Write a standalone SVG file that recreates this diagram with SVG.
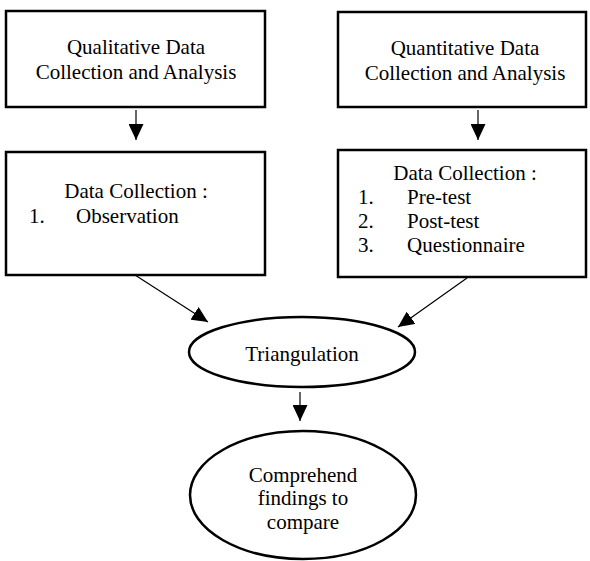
<svg xmlns="http://www.w3.org/2000/svg" width="590" height="561" viewBox="0 0 590 561">
<style>
.box{fill:#fff;stroke:#000;stroke-width:2.5}
.ell{fill:#fff;stroke:#000;stroke-width:2.5}
text{font-family:'Liberation Serif','Times New Roman',Times,serif;font-size:21px;fill:#000}
.c{text-anchor:middle}
.ln{stroke:#000;stroke-width:1.2;fill:none}
</style>
<defs>
<marker id="ah" markerUnits="userSpaceOnUse" markerWidth="17" markerHeight="15" refX="16" refY="7.5" orient="auto">
<path d="M0,0 L16,7.5 L0,15 z" fill="#000"/>
</marker>
</defs>
<g id="qual">
<rect class="box" x="6" y="11" width="259" height="96"/>
<text class="c" x="136" y="54">Qualitative Data</text>
<text class="c" x="136" y="79">Collection and Analysis</text>
</g>
<g id="quant">
<rect class="box" x="338" y="12" width="248" height="95"/>
<text class="c" x="465" y="55">Quantitative Data</text>
<text class="c" x="465" y="80">Collection and Analysis</text>
</g>
<g id="qualdc">
<rect class="box" x="6" y="152" width="259" height="123"/>
<text class="c" x="136" y="198">Data Collection :</text>
<text x="29" y="223">1.</text>
<text x="76" y="223">Observation</text>
</g>
<g id="quantdc">
<rect class="box" x="338" y="150" width="248" height="127"/>
<text class="c" x="465" y="180">Data Collection :</text>
<text x="358" y="204">1.</text>
<text x="407" y="204">Pre-test</text>
<text x="358" y="228">2.</text>
<text x="407" y="228">Post-test</text>
<text x="358" y="252">3.</text>
<text x="407" y="252">Questionnaire</text>
</g>
<g id="tri">
<ellipse class="ell" cx="302" cy="352" rx="113" ry="35"/>
<text class="c" x="302" y="361">Triangulation</text>
</g>
<g id="comp">
<ellipse class="ell" cx="303" cy="495" rx="113" ry="64"/>
<text class="c" x="303" y="482">Comprehend</text>
<text class="c" x="303" y="505">findings to</text>
<text class="c" x="303" y="529">compare</text>
</g>
<g id="connectors">
<line class="ln" x1="136" y1="110" x2="136" y2="140" marker-end="url(#ah)"/>
<line class="ln" x1="478" y1="110" x2="478" y2="140" marker-end="url(#ah)"/>
<line class="ln" x1="135" y1="275" x2="208" y2="322" marker-end="url(#ah)"/>
<line class="ln" x1="467" y1="278" x2="398" y2="327" marker-end="url(#ah)"/>
<line class="ln" x1="300" y1="392" x2="300" y2="421" marker-end="url(#ah)"/>
</g>
</svg>
